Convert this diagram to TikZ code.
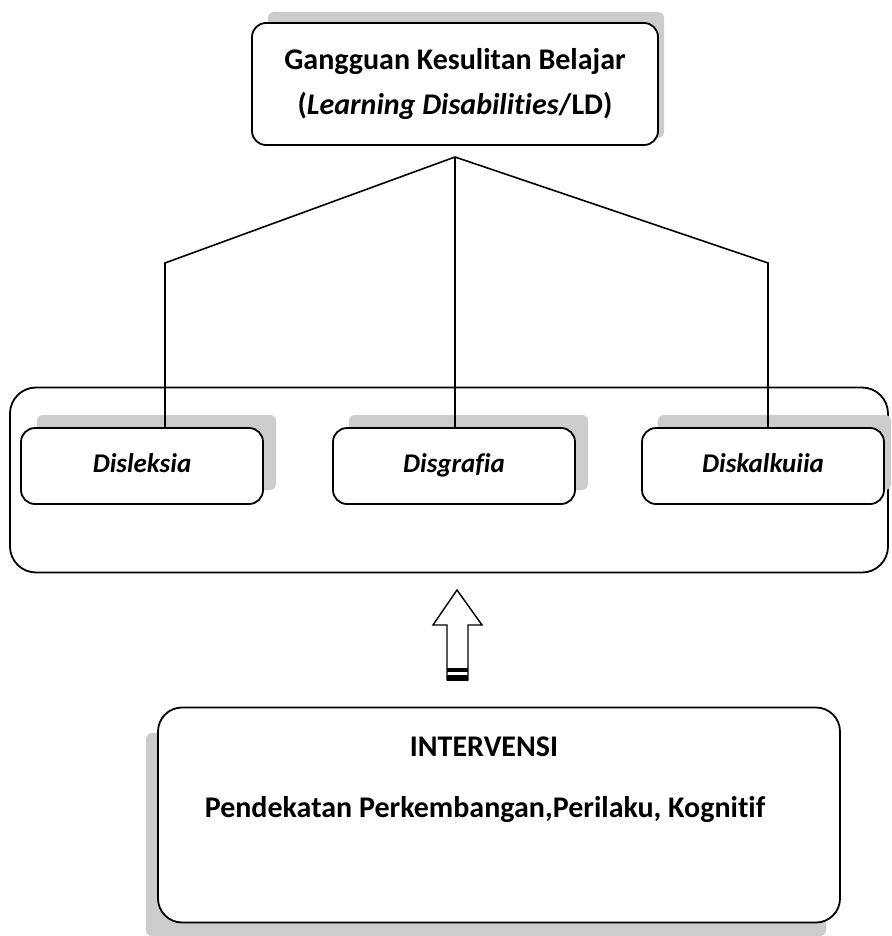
\documentclass[tikz,border=0pt]{standalone}
\usepackage{fontspec}
\setmainfont{Carlito}[Ligatures=NoCommon]
\usetikzlibrary{positioning}

\tikzset{
  box/.style={draw, rounded corners=14pt, line width=1.8pt, fill=white, align=center},
  kid/.style={box, minimum width=242pt, minimum height=76pt, text height=19pt, text depth=6pt,
    font=\bfseries\itshape\fontsize{27}{30}\selectfont},
  shade/.style={fill=gray!40, rounded corners=6pt},
  link/.style={line width=1.6pt},
  txt/.style={font=\bfseries\fontsize{30}{45}\selectfont, align=center}
}

\begin{document}
\begin{tikzpicture}[x=1pt,y=-1pt]
		\useasboundingbox (0,0) rectangle (891,936);
		% top
		\fill[shade] (268,12) rectangle (664,138);
		\node[box, txt, minimum width=406pt, minimum height=122pt] (ld) at (455,84)
			{Gangguan Kesulitan Belajar\\(\textit{Learning Disabilities}/LD)};
		% middle
		\node[box, rounded corners=26pt, minimum width=878pt, minimum height=185pt] (grp) at (449,480) {};
		\fill[shade] (37,415) rectangle (276,490);
		\fill[shade] (349,415) rectangle (588,490);
		\fill[shade] (658,415) rectangle (891,490);
		\node[kid] (disl) at (142,466) {Disleksia};
		\node[kid] (disg) at (454,466) {Disgrafia};
		\node[kid] (disk) at (763,466) {Diskalkuiia};
		% lines
		\coordinate (hub) at (455,157);
		\coordinate (lbend) at (165,263);
		\coordinate (rbend) at (768,263);
		\draw[link] (hub) -- (lbend) -- (lbend |- disl.north);
		\draw[link] (hub) -- (hub |- disg.north);
		\draw[link] (hub) -- (rbend) -- (rbend |- disk.north);
		% arrow
		\draw[line width=1.4pt, fill=white] (457,590) -- (482,625) -- (468,625) -- (468,680)
			-- (447,680) -- (447,625) -- (433,625) -- cycle;
		\fill (447,668) rectangle (468,672);
		\fill (447,675) rectangle (468,681);
		% bottom
		\fill[shade] (146,733) rectangle (826,936);
		\node[box, rounded corners=24pt, minimum width=682pt, minimum height=215pt] (intbox) at (499,815) {};
		\node[txt] (intv) at (484,747) {INTERVENSI};
		\node[txt] (pend) at (485,810) {Pendekatan Perkembangan,Perilaku, Kognitif};
\end{tikzpicture}
\end{document}
